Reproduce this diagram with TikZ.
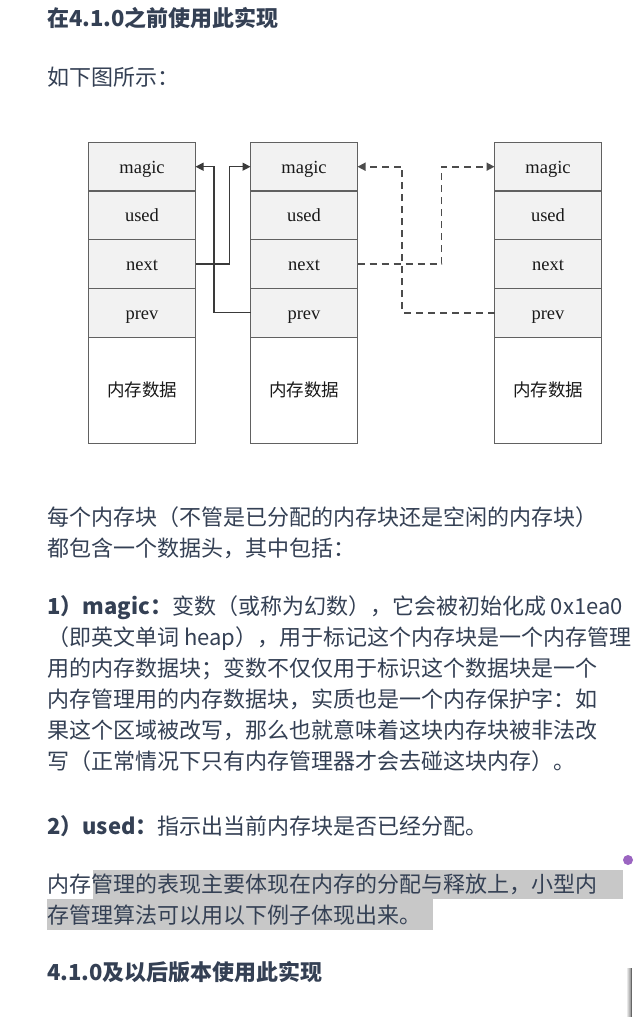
\documentclass[tikz,border=0pt]{standalone}
\usepackage{fontspec}
\setmainfont{Noto Sans CJK SC}
\newfontfamily\cellfont{Liberation Serif}
\usetikzlibrary{positioning,arrows.meta}
\definecolor{inktext}{HTML}{344054}
\definecolor{cellgray}{HTML}{F2F2F2}
\definecolor{linkgray}{HTML}{3A3A3A}
\definecolor{markgray}{HTML}{C8C8C8}
\definecolor{dotpurple}{HTML}{9B65C1}
\begin{document}
\begin{tikzpicture}[x=1pt, y=-1pt,
  cell/.style={draw=black!62, line width=1.2pt, fill=cellgray, outer sep=0pt, inner sep=0pt,
    minimum width=107pt, minimum height=48.7pt, text height=14pt, text depth=1pt,
    font=\cellfont\fontsize{18.5}{18.5}\selectfont, text=black!90},
  datacell/.style={cell, fill=white, minimum height=106pt, font=\fontsize{17.5}{17.5}\selectfont},
  link/.style={draw=linkgray, line width=1.3pt, -{Triangle[length=8pt,width=8pt]}},
  dashlink/.style={link, line width=1.6pt, draw=black!70, dash pattern=on 7pt off 5pt},
  para/.style={anchor=base west, inner sep=0pt, text=inktext, font=\fontsize{22}{22}\selectfont}]
\useasboundingbox (0,0) rectangle (634,1017);
\fill[white] (0,0) rectangle (634,1017);

% selection marks behind the last paragraph
\fill[markgray] (93,870) rectangle (623,899);
\fill[markgray] (47,899) rectangle (433,930);
\fill[dotpurple] (628,860) circle (5);
\shade[left color=white, right color=black!45] (626,968) rectangle (631,1017);
\draw[black!60, line width=1.2pt] (631.5,968) -- (631.5,1017);

% text
\node[para, font=\bfseries\fontsize{22}{22}\selectfont] (head1) at (47,27) {在4.1.0之前使用此实现};
\node[para] (intro) at (47,85) {如下图所示：};
\node[para] (p1a) at (47,525) {每个内存块（不管是已分配的内存块还是空闲的内存块）};
\node[para] (p1b) at (47,556) {都包含一个数据头，其中包括：};
\node[para] (p2a) at (47,614) {{\bfseries 1）magic：}变数（或称为幻数），它会被初始化成 0x1ea0};
\node[para] (p2b) at (47,645) {（即英文单词 heap），用于标记这个内存块是一个内存管理};
\node[para] (p2c) at (47,676) {用的内存数据块；变数不仅仅用于标识这个数据块是一个};
\node[para] (p2d) at (47,707) {内存管理用的内存数据块，实质也是一个内存保护字：如};
\node[para] (p2e) at (47,738) {果这个区域被改写，那么也就意味着这块内存块被非法改};
\node[para] (p2f) at (47,769) {写（正常情况下只有内存管理器才会去碰这块内存）。};
\node[para] (p3) at (47,834) {{\bfseries 2）used：}指示出当前内存块是否已经分配。};
\node[para] (p4a) at (47,892) {内存管理的表现主要体现在内存的分配与释放上，小型内};
\node[para] (p4b) at (47,923) {存管理算法可以用以下例子体现出来。};
\node[para, font=\bfseries\fontsize{22}{22}\selectfont] (head2) at (47,980) {4.1.0及以后版本使用此实现};

% memory blocks
\foreach \col/\cx in {1/142, 2/304, 3/548} {
  \node[cell] (magic\col) at (\cx,166.7) {magic};
  \node[cell, below=0pt of magic\col] (used\col) {used};
  \node[cell, below=0pt of used\col] (next\col) {next};
  \node[cell, below=0pt of next\col] (prev\col) {prev};
  \node[datacell, below=0pt of prev\col] (data\col) {内存数据};
}

\draw[link] (next1.east) -- ++(34,0) |- (magic2.west);
\draw[link] (prev2.west) -- ++(-36.6,0) |- (magic1.east);
\draw[dashlink] (next2.east) -- ++(84,0) |- (magic3.west);
\draw[dashlink] (prev3.west) -- ++(-92.3,0) |- (magic2.east);
\end{tikzpicture}
\end{document}
